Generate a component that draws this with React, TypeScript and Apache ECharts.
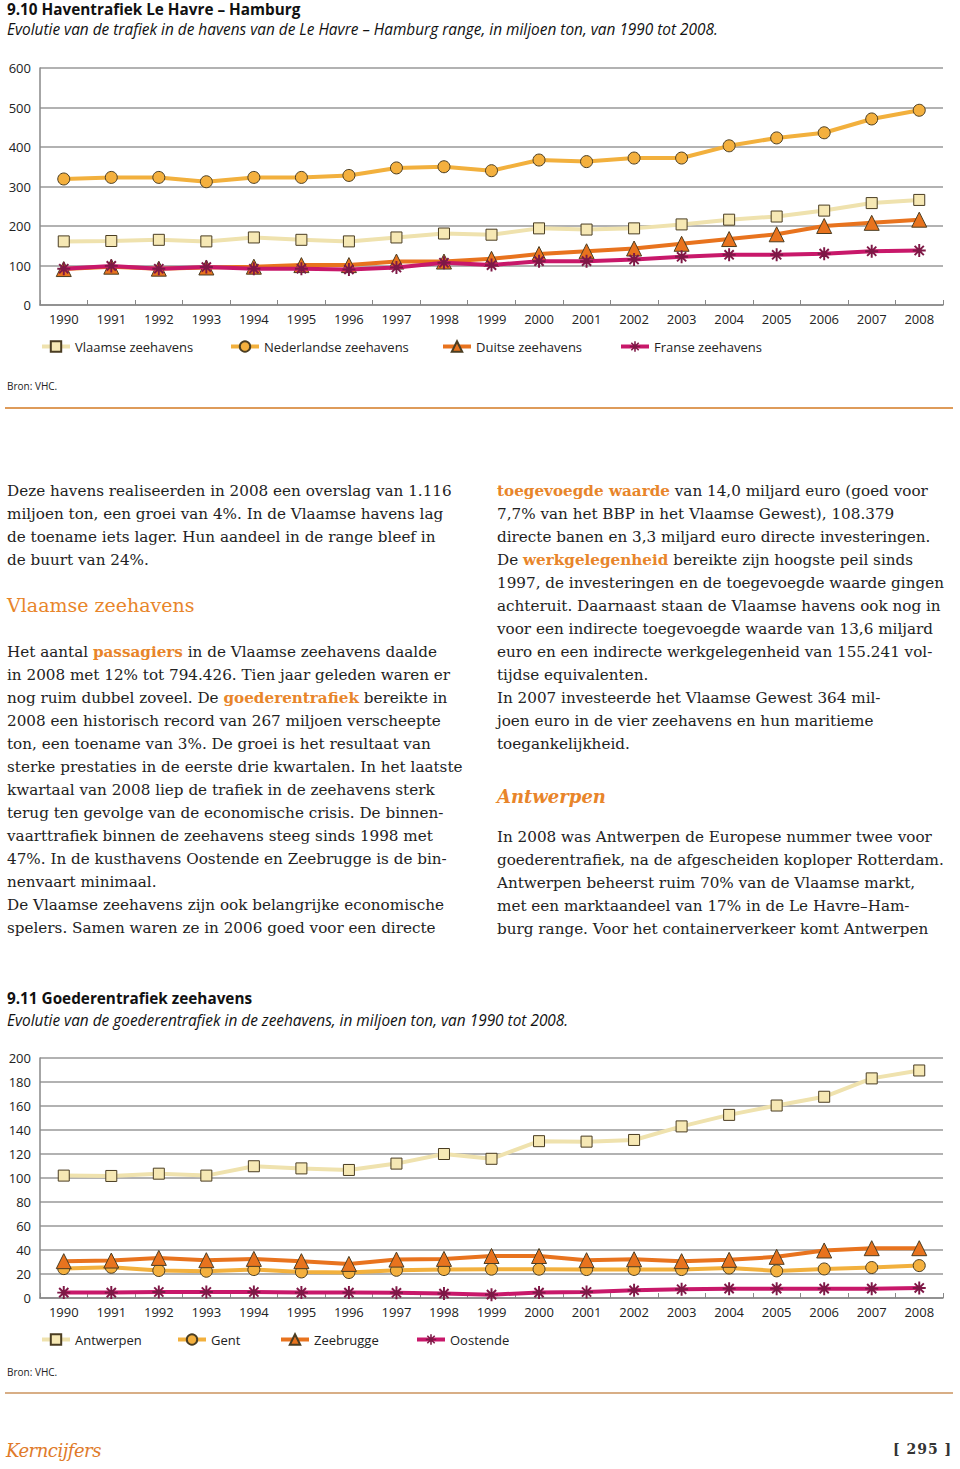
import React, { useEffect, useRef } from "react";
import * as echarts from "echarts";

const years = ["1990","1991","1992","1993","1994","1995","1996","1997","1998","1999","2000","2001","2002","2003","2004","2005","2006","2007","2008"];

// Chart 9.10 (miljoen ton)
const vlaamse = [161,162,165,161,171,165,161,171,181,178,194,191,194,204,216,224,239,258,266];
const nederlandse = [319,323,323,312,323,323,328,347,350,340,367,363,372,372,403,423,436,471,493];
const duitse = [91,97,92,95,97,101,101,110,110,117,129,136,143,155,167,179,200,208,216];
const franse = [92,99,92,96,92,92,90,95,107,101,111,111,115,122,127,127,130,136,138];
const ticks1 = { min: 0, max: 600, interval: 100 };

// Chart 9.11 (miljoen ton)
const antwerpen = [102,101.7,103.6,102,109.8,108,106.7,112,120,116,130.7,130.3,131.7,143,152.6,160.4,167.7,183,189.6];
const gent = [24.5,25.6,22.9,22.3,23.7,21.7,21.2,23.1,23.7,24,24,23.7,23.8,23.7,25,22.6,24.2,25.4,27];
const zeebrugge = [30.7,31.2,33.4,31.5,32.6,30.7,28.4,32,32.6,35,35,31.5,32.3,30.7,31.8,34.3,39.6,41.5,41.5];
const oostende = [4.5,4.5,5,5,5,4.5,4.5,4.3,3.7,2.8,4.5,5,6.4,7.3,7.8,7.8,7.8,7.8,8.4];
const ticks2 = { min: 0, max: 200, interval: 20 };

const names1 = ["Vlaamse zeehavens", "Nederlandse zeehavens", "Duitse zeehavens", "Franse zeehavens"];
const names2 = ["Antwerpen", "Gent", "Zeebrugge", "Oostende"];

const SANS = "'Open Sans', 'Noto Sans', sans-serif";
const SERIF = "'DejaVu Serif', serif";
const ORANGE = "#E8852A";

const ASTERISK =
  "path://M-1.5 -10 L1.5 -10 L1.5 10 L-1.5 10 Z " +
  "M-10 -1.5 L10 -1.5 L10 1.5 L-10 1.5 Z " +
  "M6.01 -8.13 L8.13 -6.01 L-6.01 8.13 L-8.13 6.01 Z " +
  "M8.13 6.01 L6.01 8.13 L-8.13 -6.01 L-6.01 -8.13 Z";

const styles = [
  { line: "#EFE2AE", symbol: "rect", size: 11, fill: "#F6E8B4", border: "#4a3d22" },
  { line: "#F2B03D", symbol: "circle", size: 12, fill: "#F4B03E", border: "#4a3d22" },
  { line: "#E8731E", symbol: "triangle", size: 15, fill: "#E8731E", border: "#4a3d22" },
  { line: "#C8186A", symbol: ASTERISK, size: 13, fill: "#7E1846", border: "#7E1846" },
];

function buildOption(names: string[], datas: number[][], ticks: any, legendLefts: number[], gridTop: number, gridBottom: number, legendTop: number) {
  return {
    animation: false,
    textStyle: { fontFamily: SANS },
    grid: { left: 40, right: 17, top: gridTop, bottom: gridBottom, containLabel: false },
    legend: names.map((n, i) => ({
      data: [n],
      left: legendLefts[i],
      top: legendTop,
      padding: 0,
      itemWidth: 28,
      itemHeight: 13,
      itemGap: 6,
      lineStyle: { width: 4 },
      textStyle: { fontSize: 13, color: "#222", fontFamily: SANS },
    })),
    xAxis: {
      type: "category",
      data: years,
      boundaryGap: true,
      axisLine: { show: true, lineStyle: { color: "#888", width: 1.5 } },
      axisTick: { show: true, inside: true, length: 5, lineStyle: { color: "#888" } },
      axisLabel: { color: "#222", fontSize: 13, margin: 7, fontFamily: SANS },
    },
    yAxis: {
      type: "value",
      min: ticks.min,
      max: ticks.max,
      interval: ticks.interval,
      axisLine: { show: true, lineStyle: { color: "#888", width: 1.5 } },
      axisTick: { show: false },
      axisLabel: { color: "#222", fontSize: 13, margin: 9, fontFamily: SANS },
      splitLine: { show: true, lineStyle: { color: "#999", width: 1.5 } },
    },
    series: names.map((n, i) => ({
      name: n,
      type: "line",
      data: datas[i],
      symbol: styles[i].symbol,
      symbolSize: styles[i].size,
      showAllSymbol: true,
      lineStyle: { color: styles[i].line, width: 4 },
      itemStyle: { color: styles[i].fill, borderColor: styles[i].border, borderWidth: i === 3 ? 0 : 1 },
      emphasis: { disabled: true },
      z: 2 + i,
    })),
  };
}

const para = (lines: React.ReactNode[], left: number, top: number) =>
  lines.map((l, i) => (
    <div key={left + "-" + top + "-" + i} style={{ position: "absolute", left, top: top + i * 23, whiteSpace: "nowrap", fontFamily: SERIF, fontSize: 15.2, color: "#222", lineHeight: "20px" }}>
      {l}
    </div>
  ));

const hl = (t: string) => <span style={{ color: ORANGE, fontWeight: "bold" }}>{t}</span>;

export default function App() {
  const r1 = useRef<HTMLDivElement>(null);
  const r2 = useRef<HTMLDivElement>(null);

  useEffect(() => {
    const c1 = echarts.init(r1.current!, null, { renderer: "svg" });
    c1.setOption(buildOption(names1, [vlaamse, nederlandse, duitse, franse], ticks1, [40, 229, 441, 619], 18, 65, 290));
    const c2 = echarts.init(r2.current!, null, { renderer: "svg" });
    c2.setOption(buildOption(names2, [antwerpen, gent, zeebrugge, oostende], ticks2, [40, 176, 279, 415], 18, 62, 293));
    return () => {
      c1.dispose();
      c2.dispose();
    };
  }, []);

  const titleStyle: React.CSSProperties = { position: "absolute", left: 7, fontFamily: SANS, fontWeight: "bold", fontSize: 15.3, color: "#111", whiteSpace: "nowrap", lineHeight: "18px" };
  const subStyle: React.CSSProperties = { position: "absolute", left: 7, fontFamily: SANS, fontStyle: "italic", fontSize: 15.4, color: "#111", whiteSpace: "nowrap", lineHeight: "18px" };
  const bronStyle: React.CSSProperties = { position: "absolute", left: 7, fontFamily: SANS, fontSize: 10, color: "#222", whiteSpace: "nowrap", lineHeight: "12px" };

  return (
    <div style={{ position: "absolute", left: 0, top: 0, width: 960, height: 1469, background: "#fff", overflow: "hidden" }}>
      <div style={{ ...titleStyle, top: 0 }}>9.10 Haventrafiek Le Havre – Hamburg</div>
      <div style={{ ...subStyle, top: 21 }}>Evolutie van de trafiek in de havens van de Le Havre – Hamburg range, in miljoen ton, van 1990 tot 2008.</div>
      <div ref={r1} style={{ position: "absolute", left: 0, top: 50, width: 960, height: 320 }} />
      <div style={{ ...bronStyle, top: 380 }}>Bron: VHC.</div>
      <div style={{ position: "absolute", left: 5, top: 407, width: 948, height: 2, background: "#DE9B5A" }} />

      {para([
        "Deze havens realiseerden in 2008 een overslag van 1.116",
        "miljoen ton, een groei van 4%. In de Vlaamse havens lag",
        "de toename iets lager. Hun aandeel in de range bleef in",
        "de buurt van 24%.",
      ], 7, 481)}
      <div style={{ position: "absolute", left: 7, top: 593, fontFamily: SERIF, fontSize: 19, color: ORANGE, whiteSpace: "nowrap", lineHeight: "24px" }}>Vlaamse zeehavens</div>
      {para([
        <>Het aantal {hl("passagiers")} in de Vlaamse zeehavens daalde</>,
        "in 2008 met 12% tot 794.426. Tien jaar geleden waren er",
        <>nog ruim dubbel zoveel. De {hl("goederentrafiek")} bereikte in</>,
        "2008 een historisch record van 267 miljoen verscheepte",
        "ton, een toename van 3%. De groei is het resultaat van",
        "sterke prestaties in de eerste drie kwartalen. In het laatste",
        "kwartaal van 2008 liep de trafiek in de zeehavens sterk",
        "terug ten gevolge van de economische crisis. De binnen-",
        "vaarttrafiek binnen de zeehavens steeg sinds 1998 met",
        "47%. In de kusthavens Oostende en Zeebrugge is de bin-",
        "nenvaart minimaal.",
        "De Vlaamse zeehavens zijn ook belangrijke economische",
        "spelers. Samen waren ze in 2006 goed voor een directe",
      ], 7, 642)}

      {para([
        <>{hl("toegevoegde waarde")} van 14,0 miljard euro (goed voor</>,
        "7,7% van het BBP in het Vlaamse Gewest), 108.379",
        "directe banen en 3,3 miljard euro directe investeringen.",
        <>De {hl("werkgelegenheid")} bereikte zijn hoogste peil sinds</>,
        "1997, de investeringen en de toegevoegde waarde gingen",
        "achteruit. Daarnaast staan de Vlaamse havens ook nog in",
        "voor een indirecte toegevoegde waarde van 13,6 miljard",
        "euro en een indirecte werkgelegenheid van 155.241 vol-",
        "tijdse equivalenten.",
        "In 2007 investeerde het Vlaamse Gewest 364 mil-",
        "joen euro in de vier zeehavens en hun maritieme",
        "toegankelijkheid.",
      ], 497, 481)}
      <div style={{ position: "absolute", left: 497, top: 785, fontFamily: SERIF, fontSize: 18, fontStyle: "italic", fontWeight: "bold", color: ORANGE, whiteSpace: "nowrap", lineHeight: "24px" }}>Antwerpen</div>
      {para([
        "In 2008 was Antwerpen de Europese nummer twee voor",
        "goederentrafiek, na de afgescheiden koploper Rotterdam.",
        "Antwerpen beheerst ruim 70% van de Vlaamse markt,",
        "met een marktaandeel van 17% in de Le Havre–Ham-",
        "burg range. Voor het containerverkeer komt Antwerpen",
      ], 497, 827)}

      <div style={{ ...titleStyle, top: 989 }}>9.11 Goederentrafiek zeehavens</div>
      <div style={{ ...subStyle, top: 1012 }}>Evolutie van de goederentrafiek in de zeehavens, in miljoen ton, van 1990 tot 2008.</div>
      <div ref={r2} style={{ position: "absolute", left: 0, top: 1040, width: 960, height: 320 }} />
      <div style={{ ...bronStyle, top: 1366 }}>Bron: VHC.</div>
      <div style={{ position: "absolute", left: 5, top: 1392, width: 948, height: 2, background: "#D8AE86" }} />

      <div style={{ position: "absolute", left: 6, top: 1438, fontFamily: SERIF, fontStyle: "italic", fontSize: 18, color: "#E07A2A", whiteSpace: "nowrap", lineHeight: "26px", letterSpacing: -0.5 }}>Kerncijfers</div>
      <div style={{ position: "absolute", left: 893, top: 1440, fontFamily: SERIF, fontWeight: "bold", fontSize: 14, color: "#333", whiteSpace: "nowrap", lineHeight: "18px", letterSpacing: 1 }}>[ 295 ]</div>
    </div>
  );
}
